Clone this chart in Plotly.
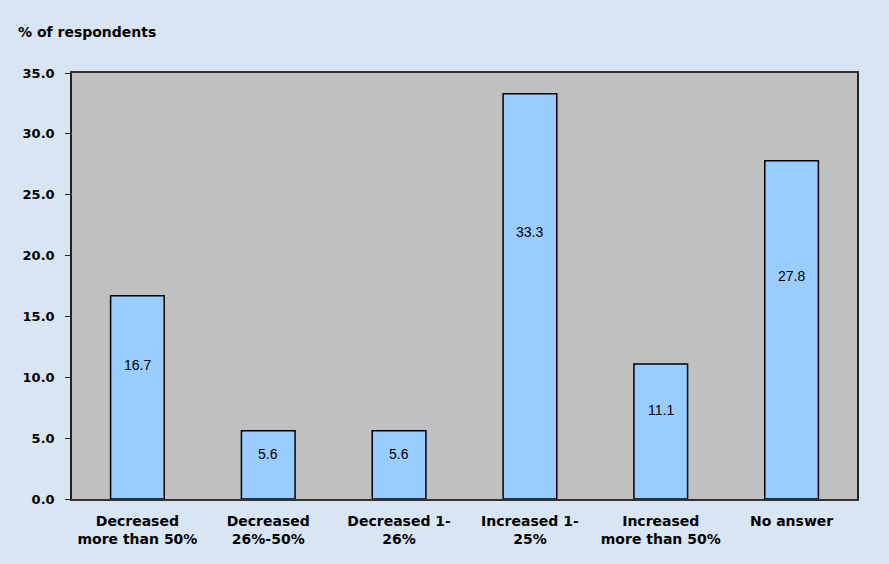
import plotly.graph_objects as go

categories = ["Decreased<br>more than 50%", "Decreased<br>26%-50%", "Decreased 1-<br>26%",
              "Increased 1-<br>25%", "Increased<br>more than 50%", "No answer"]
values = [16.7, 5.6, 5.6, 33.3, 11.1, 27.8]
y_ticks = [0, 5, 10, 15, 20, 25, 30, 35]

LABEL_FRAC = 0.66  # data labels sit at about two thirds of bar height

fig = go.Figure(go.Bar(
    x=categories, y=values,
    marker=dict(color="#99CCFF", line=dict(color="#000000", width=1.5)),
    width=0.41,
    hoverinfo="x+y",
))

annotations = [dict(
    x=c, y=v * LABEL_FRAC, xref="x", yref="y", text=f"{v:.1f}", showarrow=False,
    font=dict(family="Liberation Sans, Arial", size=14, color="#000000"),
) for c, v in zip(categories, values)]

annotations.append(dict(
    text="<b>% of respondents</b>", xref="paper", yref="paper",
    x=-56/785, y=1 + (73-32)/426, xanchor="left", yanchor="middle",
    showarrow=False, font=dict(size=14, family="DejaVu Sans"),
))

fig.update_layout(
    width=889, height=564,
    margin=dict(l=72, r=32, t=73, b=65),
    paper_bgcolor="#D8E6F4",
    plot_bgcolor="#C0C0C0",
    showlegend=False,
    font=dict(family="DejaVu Sans", color="#000000"),
    xaxis=dict(
        showline=True, linecolor="#333333", linewidth=1.5, mirror=True,
        ticks="", tickfont=dict(size=14, family="DejaVu Sans"),
        showgrid=False, ticklabelstandoff=8,
        tickvals=categories, ticktext=[f"<b>{c}</b>" for c in categories],
    ),
    yaxis=dict(
        range=[0, 35], tickvals=y_ticks, ticktext=[f"<b>{t:.1f}</b>" for t in y_ticks],
        showline=True, linecolor="#222222", linewidth=1.5, mirror=True,
        ticks="outside", ticklen=5, tickcolor="#222222",
        tickfont=dict(size=13, family="DejaVu Sans"), ticklabelstandoff=8,
        showgrid=False, zeroline=False,
    ),
    annotations=annotations,
)

fig.write_html("out.html")
